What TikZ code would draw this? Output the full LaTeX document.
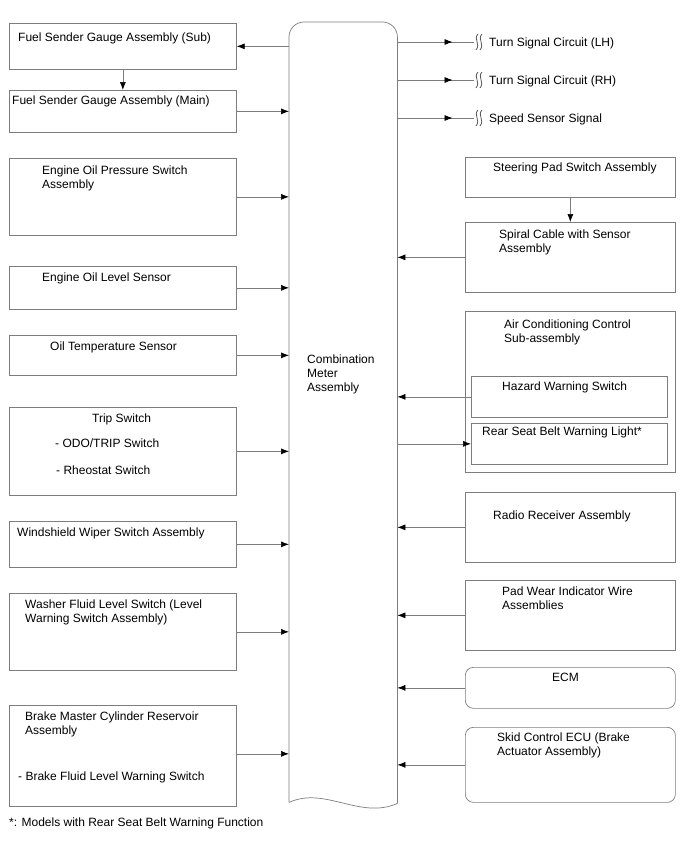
\documentclass[tikz,border=0pt]{standalone}
\usepackage{fontspec}
\setmainfont{Liberation Sans}
\usetikzlibrary{positioning, arrows.meta, calc, decorations.markings}
\definecolor{linegray}{RGB}{125,125,125}

\tikzset{
	brk/.pic={
		\draw[linegray!70!black, line width=0.8pt] (4,-8) .. controls (-1,-3) and (7,2) .. (2,8);
		\draw[linegray!70!black, line width=0.8pt] (8,-8) .. controls (3,-3) and (11,2) .. (6,8);
	}
}

\begin{document}
\begin{tikzpicture}[x=1pt, y=-1pt,
		font=\fontsize{12}{14}\selectfont,
		box/.style={rectangle, draw=linegray, line width=0.7pt, anchor=north west, inner sep=0pt, minimum width=227},
		rbox/.style={box, minimum width=210},
		txt/.style={anchor=base west, inner sep=0pt, align=left},
		wire/.style={draw=linegray, line width=0.7pt},
		arrow/.style={wire, -{Latex[length=8pt, width=6pt, black]}},
		midarrow/.style={wire, postaction={decorate}, decoration={markings, mark=at position 0.72 with {\arrow{Latex[length=8pt, width=6pt, black]}}}}
		]
		\useasboundingbox (0,0) rectangle (688,852);
		
		% Center
		\node[minimum width=108, minimum height=780, inner sep=0pt, anchor=north west] (meter) at (289,22) {};
		\coordinate (meterSE) at ($(meter.south east)+(0,1)$);
		\draw[wire, rounded corners=15] (meterSE) -- (meter.north east) -- (meter.north west) -- (meter.south west);
		\draw[wire] (meter.south west) .. controls (325,786) and (360,820) .. (meterSE);
		\node[txt] (meterT) at (307,391) {Combination\\Meter\\Assembly};
		
		% Left column
		\node[box, minimum height=46] (sub) at (9,23) {};
		\node[txt] (subT) at (18,41) {Fuel Sender Gauge Assembly (Sub)};
		\node[box, minimum height=42] (main) at (9,90) {};
		\node[txt] (mainT) at (12,104) {Fuel Sender Gauge Assembly (Main)};
		\node[box, minimum height=77] (oilP) at (9,158) {};
		\node[txt] (oilPT) at (42,188) {Engine Oil Pressure Switch\\Assembly};
		\node[box, minimum height=43] (oilL) at (9,266) {};
		\node[txt] (oilLT) at (42,281) {Engine Oil Level Sensor};
		\node[box, minimum height=40] (oilT) at (9,335) {};
		\node[txt] (oilTT) at (50,350) {Oil Temperature Sensor};
		\node[box, minimum height=88] (trip) at (9,407) {};
		\node[txt] (tripT) at (92,422) {Trip Switch};
		\node[txt] (tripA) at (55,447) {- ODO/TRIP Switch};
		\node[txt] (tripB) at (56,474) {- Rheostat Switch};
		\node[box, minimum height=46] (wiper) at (9,521) {};
		\node[txt] (wiperT) at (17,536) {Windshield Wiper Switch Assembly};
		\node[box, minimum height=77] (washer) at (9,593) {};
		\node[txt] (washerT) at (25,622) {Washer Fluid Level Switch (Level\\Warning Switch Assembly)};
		\node[box, minimum height=101] (brake) at (9,705) {};
		\node[txt] (brakeT) at (25,734) {Brake Master Cylinder Reservoir\\Assembly};
		\node[txt] (brakeA) at (18,780) {- Brake Fluid Level Warning Switch};
		
		% Right column
		\coordinate (lhB) at (474,42);
		\coordinate (rhB) at (474,80);
		\coordinate (spdB) at (474,118);
		\pic at (lhB) {brk};
		\pic at (rhB) {brk};
		\pic at (spdB) {brk};
		\node[txt] (lhT) at (489,46) {Turn Signal Circuit (LH)};
		\node[txt] (rhT) at (489,84) {Turn Signal Circuit (RH)};
		\node[txt] (spdT) at (489,122) {Speed Sensor Signal};
		
		\node[rbox, minimum height=40] (steer) at (465,157) {};
		\node[txt] (steerT) at (493,171) {Steering Pad Switch Assembly};
		\node[rbox, minimum height=70] (spiral) at (465,222) {};
		\node[txt] (spiralT) at (499,252) {Spiral Cable with Sensor\\Assembly};
		\node[rbox, minimum height=161] (ac) at (465,311) {};
		\node[txt] (acT) at (504,342) {Air Conditioning Control\\Sub-assembly};
		\node[box, minimum width=196, minimum height=41] (hazard) at (471,376) {};
		\node[txt] (hazardT) at (502,390) {Hazard Warning Switch};
		\node[box, minimum width=196, minimum height=41] (rear) at (471,423) {};
		\node[txt] (rearT) at (482,435) {Rear Seat Belt Warning Light*};
		\node[rbox, minimum height=70] (radio) at (465,492) {};
		\node[txt] (radioT) at (493,519) {Radio Receiver Assembly};
		\node[rbox, minimum height=70] (pad) at (465,580) {};
		\node[txt] (padT) at (502,609) {Pad Wear Indicator Wire\\Assemblies};
		\node[rbox, rounded corners=8, minimum height=41] (ecm) at (465,667) {};
		\node[txt] (ecmT) at (552,681) {ECM};
		\node[rbox, rounded corners=8, minimum height=75] (skid) at (465,727) {};
		\node[txt] (skidT) at (497,755) {Skid Control ECU (Brake\\Actuator Assembly)};
		
		\node[txt] (note) at (9,826) {*: Models with Rear Seat Belt Warning Function};
		
		% Edges left
		\draw[arrow] (meter.west |- sub.east) -- (sub.east);
		\draw[arrow] (sub.south) -- (main.north);
		\draw[arrow] (main.east) -- (main.east -| meter.west);
		\draw[arrow] (oilP.east) -- (oilP.east -| meter.west);
		\draw[arrow] (oilL.east) -- (oilL.east -| meter.west);
		\draw[arrow] (oilT.east) -- (oilT.east -| meter.west);
		\draw[arrow] (trip.east) -- (trip.east -| meter.west);
		\draw[arrow] (wiper.east) -- (wiper.east -| meter.west);
		\draw[arrow] (washer.east) -- (washer.east -| meter.west);
		\draw[arrow] ([yshift=2pt]brake.east) -- ([yshift=2pt]brake.east -| meter.west);
		
		% Edges right
		\draw[midarrow] (meter.east |- lhB) -- (lhB);
		\draw[midarrow] (meter.east |- rhB) -- (rhB);
		\draw[midarrow] (meter.east |- spdB) -- (spdB);
		\draw[arrow] (steer.south) -- (spiral.north);
		\draw[arrow] (spiral.west) -- (spiral.west -| meter.east);
		\draw[arrow] (hazard.west) -- (hazard.west -| meter.east);
		\draw[arrow] (meter.east |- rear.west) -- (rear.west);
		\draw[arrow] (radio.west) -- (radio.west -| meter.east);
		\draw[arrow] (pad.west) -- (pad.west -| meter.east);
		\draw[arrow] (ecm.west) -- (ecm.west -| meter.east);
		\draw[arrow] (skid.west) -- (skid.west -| meter.east);
		
	\end{tikzpicture}
\end{document}
